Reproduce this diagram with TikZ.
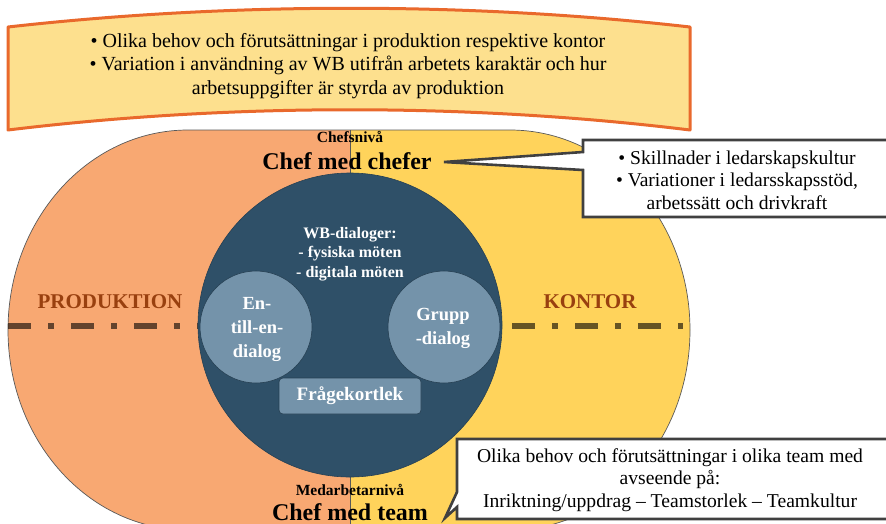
\documentclass[tikz,border=0pt]{standalone}
\usepackage{fontspec}
\setmainfont{Liberation Serif}
\definecolor{prodfill}{HTML}{F8A872}
\definecolor{kontfill}{HTML}{FFD35B}
\definecolor{banfill}{HTML}{FDE08E}
\definecolor{banline}{HTML}{E9692C}
\definecolor{darkcirc}{HTML}{2F5068}
\definecolor{lightcirc}{HTML}{7493AA}
\definecolor{sidetext}{HTML}{99400F}
\definecolor{callline}{HTML}{404040}
\begin{document}
\begin{tikzpicture}[x=1pt,y=-1pt,
  callout/.style={draw=callline, line width=2.6pt, fill=white, line join=miter},
  bantxt/.style={align=center, font=\fontsize{20}{23.5}\selectfont, inner sep=0pt},
  calltxt/.style={align=center, font=\fontsize{19.6}{22.5}\selectfont, inner sep=0pt},
  smalllevel/.style={font=\bfseries\fontsize{15.5}{17}\selectfont, inner sep=0pt},
  biglevel/.style={font=\bfseries\fontsize{24}{27}\selectfont, inner sep=0pt},
  sidelabel/.style={font=\bfseries\fontsize{21}{24}\selectfont, text=sidetext, inner sep=0pt},
  subcirc/.style={circle, draw=darkcirc!80!black, line width=0.6pt, fill=lightcirc, minimum size=112pt, inner sep=0pt},
  whitetxt/.style={text=white, font=\bfseries, align=center}
]
\useasboundingbox (0,0) rectangle (886,523);
\begin{scope}
\clip (0,0) rectangle (886,523);
% stadium halves
\fill[prodfill] (350,130) -- (188,130) arc[start angle=270, end angle=90, x radius=180, y radius=200] -- (350,530) -- cycle;
\fill[kontfill] (350,130) -- (510,130) arc[start angle=-90, end angle=90, x radius=180, y radius=200] -- (350,530) -- cycle;
\draw[gray!70!black, line width=0.7pt] (188,130) arc[start angle=270, end angle=90, x radius=180, y radius=200] -- (510,530) arc[start angle=90, end angle=-90, x radius=180, y radius=200] -- cycle;
\draw[gray!70!black, line width=0.8pt] (350,130) -- (350,530);
% dash-dot line
\draw[black, opacity=0.6, line width=6.5pt, dash pattern=on 23pt off 17pt on 6pt off 17pt] (8,326) -- (683,326);
% main circle
\node[circle, fill=darkcirc, draw=darkcirc!80!black, line width=0.6pt, minimum size=304pt, inner sep=0pt] (core) at (350,325) {};
\node[subcirc] (one) at (256,327) {};
\node[subcirc] (grp) at (444,327) {};
\node[draw=darkcirc!80!black, line width=0.6pt, fill=lightcirc, rounded corners=4pt, minimum width=142pt, minimum height=36pt] (deck) at (350,396) {};
\node[whitetxt, font=\bfseries\fontsize{19}{22}\selectfont] (decktxt) at (350,396) {Frågekortlek};
\node[whitetxt, font=\bfseries\fontsize{18.5}{24}\selectfont] (onetxt) at (257,329) {En-\\till-en-\\dialog};
\node[whitetxt, font=\bfseries\fontsize{18.5}{24}\selectfont] (grptxt) at (443,328) {Grupp\\-dialog};
\node[whitetxt, font=\bfseries\fontsize{16}{19.5}\selectfont] (wbtxt) at (350,254) {WB-dialoger:\\- fysiska möten\\- digitala möten};
% side labels
\node[sidelabel] (prod) at (110,302) {PRODUKTION};
\node[sidelabel] (kont) at (590,302) {KONTOR};
% level labels
\node[smalllevel] (chefsniva) at (350,137) {Chefsnivå};
\node[biglevel] (chefchef) at (347,161) {Chef med chefer};
\node[smalllevel] (medniva) at (350,490) {Medarbetarnivå};
\node[biglevel] (chefteam) at (350,512) {Chef med team};
% top banner
\draw[banline, line width=3pt, fill=banfill, line join=round]
  (8,27) .. controls (230,2) and (470,2) .. (690,27)
  -- (690,130) .. controls (470,103) and (230,103) .. (8,130) -- cycle;
\node[bantxt] (bantext) at (348,66) {• Olika behov och förutsättningar i produktion respektive kontor\\• Variation i användning av WB utifrån arbetets karaktär och hur\\arbetsuppgifter är styrda av produktion};
% callouts
\coordinate (tipA) at (444,162);
\draw[callout] (583,140) -- (892,140) -- (892,217) -- (583,217) -- (583,170) -- (tipA) -- (583,152) -- cycle;
\node[calltxt] (calltextA) at (737,180) {• Skillnader i ledarskapskultur\\• Variationer i ledarsskapsstöd,\\arbetssätt och drivkraft};
\coordinate (tipB) at (445,518);
\draw[callout] (457,439) -- (892,439) -- (892,519) -- (457,519) -- (457,507) -- (tipB) -- (457,492) -- cycle;
\node[calltxt] (calltextB) at (670,480) {Olika behov och förutsättningar i olika team med\\avseende på:\\Inriktning/uppdrag -- Teamstorlek -- Teamkultur};
\end{scope}
\end{tikzpicture}
\end{document}
